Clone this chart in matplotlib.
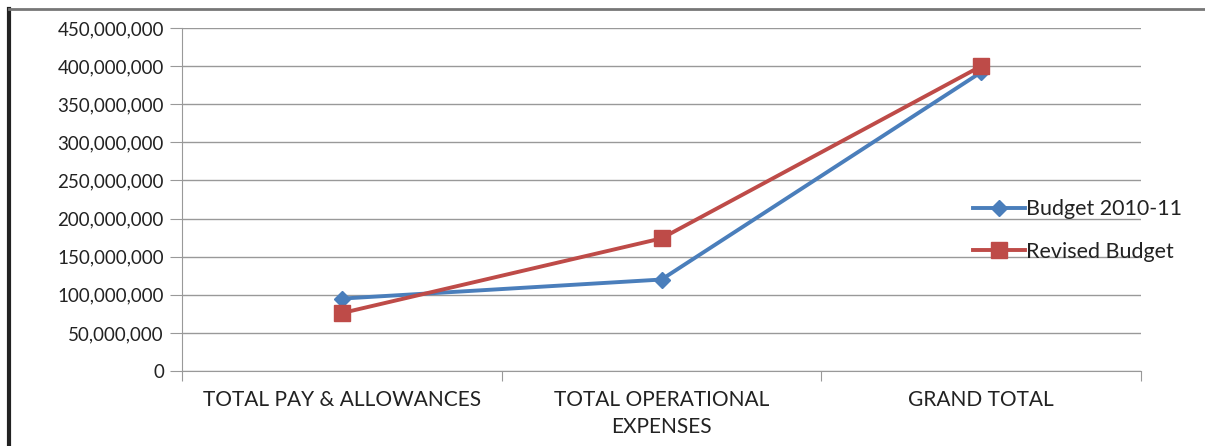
import matplotlib
matplotlib.use("Agg")
import matplotlib.pyplot as plt
from matplotlib.ticker import FuncFormatter
from matplotlib.lines import Line2D
import numpy as np

categories = ["TOTAL PAY & ALLOWANCES", "TOTAL OPERATIONAL\nEXPENSES", "GRAND TOTAL"]
budget_2010_11 = [95000000, 120000000, 392000000]
revised_budget = [76000000, 174000000, 400000000]

plt.rcParams['font.family'] = ['Lato', 'DejaVu Sans']

fig = plt.figure(figsize=(12.05, 4.46), dpi=100)
ax = fig.add_axes([182/1205, 1 - 371/446, (1141-182)/1205, (371-28)/446])

x = np.arange(len(categories)) + 0.5
ax.plot(x, budget_2010_11, color="#4A7EBB", lw=2.8, marker="D", ms=8, label="Budget 2010-11", zorder=3)
ax.plot(x, revised_budget, color="#BE4B48", lw=2.8, marker="s", ms=12, label="Revised Budget", zorder=4)

ax.set_xlim(0, len(categories))
ax.set_ylim(0, 450000000)
ax.set_yticks(np.arange(0, 450000001, 50000000))
ax.yaxis.set_major_formatter(FuncFormatter(lambda v, p: f"{int(v):,}"))
ax.set_xticks(np.arange(len(categories) + 1))
ax.set_xticklabels([])
ax.set_xticks(x, minor=True)
ax.set_xticklabels(categories, minor=True, fontsize=15, color="#222222", linespacing=1.4)
ax.tick_params(axis="x", which="minor", length=0, pad=14)
ax.tick_params(axis="x", which="major", length=7, color="#999999", direction="out")
ax.tick_params(axis="y", length=9, color="#999999", labelsize=13.5, labelcolor="#222222", pad=4)

ax.grid(axis="y", color="#999999", lw=1)
ax.set_axisbelow(True)
for s in ["top", "right"]:
    ax.spines[s].set_visible(False)
ax.spines["left"].set_color("#999999")
ax.spines["bottom"].set_color("#999999")

leg = ax.legend(loc="center left", bbox_to_anchor=(0.805, 0.41), frameon=False,
                fontsize=15.5, handlelength=2.4, handletextpad=0.05, labelspacing=1.05)
for t in leg.get_texts():
    t.set_color("#222222")

# outer border of the picture: dark on the left, grey on top
fig.add_artist(Line2D([9/1205, 9/1205], [0, 1 - 9/446], transform=fig.transFigure,
                      color="#222222", lw=3))
fig.add_artist(Line2D([9/1205, 1], [1 - 9/446, 1 - 9/446], transform=fig.transFigure,
                      color="#777777", lw=2))

fig.savefig("out.png", dpi=100)
